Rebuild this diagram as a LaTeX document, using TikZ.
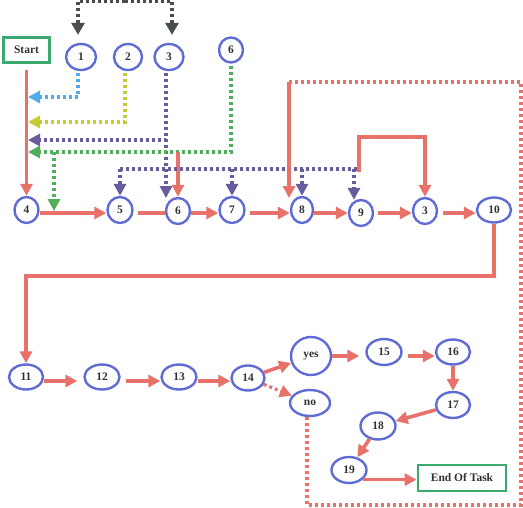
\documentclass[tikz,border=0pt]{standalone}
\usepackage{fontspec}
\setmainfont{Liberation Serif}
\usetikzlibrary{arrows.meta,shapes.geometric,calc}
\definecolor{cred}{RGB}{232,114,106}
\definecolor{cblue}{RGB}{96,108,214}
\definecolor{cgreen}{RGB}{60,170,110}
\definecolor{clb}{RGB}{80,170,235}
\definecolor{cyel}{RGB}{196,206,50}
\definecolor{cpur}{RGB}{104,92,158}
\definecolor{cgd}{RGB}{80,176,90}
\definecolor{cgray}{RGB}{72,78,72}
\definecolor{ctext}{RGB}{50,50,50}
\tikzset{
  ell/.style={ellipse,draw=cblue,line width=2.4pt,inner sep=0pt,text=ctext,font=\fontsize{11.5}{12}\selectfont\bfseries},
  box/.style={rectangle,draw=cgreen,line width=2.8pt,inner sep=0pt,text=ctext,font=\fontsize{11.5}{12}\selectfont\bfseries},
  tip/.style={-{Triangle[length=12pt,width=12pt]}},
  rline/.style={draw=cred,line width=3.6pt},
  dots/.style={line width=3.4pt,dash pattern=on 3pt off 3pt},
  rdot/.style={dots,draw=cred,line width=3.2pt},
}
\begin{document}
\begin{tikzpicture}[x=1pt,y=-1pt]
\useasboundingbox (0,0) rectangle (523,507);
\fill[white] (0,0) rectangle (523,507);
% nodes
\node[box,minimum width=46pt,minimum height=25pt] (start) at (26.5,50) {Start};
\node[ell,minimum width=30pt,minimum height=26pt] (n1) at (81,57) {1};
\node[ell,minimum width=28pt,minimum height=26pt] (n2) at (128,57) {2};
\node[ell,minimum width=29pt,minimum height=26pt] (n3a) at (169,57) {3};
\node[ell,minimum width=24pt,minimum height=25pt] (n6a) at (231,50) {6};
\node[ell,minimum width=24pt,minimum height=26pt] (n4) at (26.5,210) {4};
\node[ell,minimum width=25pt,minimum height=26pt] (n5) at (120,210) {5};
\node[ell,minimum width=24pt,minimum height=26pt] (n6) at (178,211) {6};
\node[ell,minimum width=25pt,minimum height=26pt] (n7) at (232,210) {7};
\node[ell,minimum width=22pt,minimum height=26pt] (n8) at (302,210) {8};
\node[ell,minimum width=24pt,minimum height=26pt] (n9) at (361,213) {9};
\node[ell,minimum width=24pt,minimum height=26pt] (n3b) at (425,211) {3};
\node[ell,minimum width=34pt,minimum height=25pt] (n10) at (494,210) {10};
\node[ell,minimum width=34pt,minimum height=25pt] (n11) at (26,377) {11};
\node[ell,minimum width=35pt,minimum height=25pt] (n12) at (102,377) {12};
\node[ell,minimum width=35pt,minimum height=25pt] (n13) at (179,377) {13};
\node[ell,minimum width=33pt,minimum height=25pt] (n14) at (248,378) {14};
\node[ell,minimum width=40pt,minimum height=38pt] (yes) at (311,356) {yes};
\node[ell,minimum width=35pt,minimum height=26pt] (n15) at (384,352) {15};
\node[ell,minimum width=34pt,minimum height=25pt] (n16) at (453,352) {16};
\node[ell,minimum width=34pt,minimum height=26pt] (n17) at (453,405) {17};
\node[ell,minimum width=40pt,minimum height=26pt] (no) at (310,403) {no};
\node[ell,minimum width=35pt,minimum height=27pt] (n18) at (378,426) {18};
\node[ell,minimum width=35pt,minimum height=26pt] (n19) at (349,470) {19};
\node[box,minimum width=88pt,minimum height=26pt] (end) at (462,478) {End Of Task};
% coordinates
\coordinate (gtop) at (125,1);
\coordinate (b1) at (28,97);
\coordinate (y1) at (28,122);
\coordinate (p1) at (28,140);
\coordinate (g1) at (28,152);
\coordinate (gs) at (54,152);
\coordinate (g45) at (54,211);
\coordinate (r6) at (178,152);
\coordinate (p6) at (166,198);
\coordinate (pL) at (120,169);
\coordinate (pR) at (357,169);
\coordinate (rl) at (359,172);
\coordinate (c8) at (289,82);
\coordinate (e8) at (289,198);
\coordinate (ry) at (0,213);
\coordinate (ry3) at (0,381);
\coordinate (ry4) at (0,356);
% gray dotted top
\draw[dots,draw=cgray,-{Triangle[length=12pt,width=13pt,fill=cgray]}] (gtop) -| ([xshift=-3pt,yshift=8pt]n1.north);
\draw[dots,draw=cgray,-{Triangle[length=12pt,width=13pt,fill=cgray]}] (gtop) -| ([xshift=3pt,yshift=8pt]n3a.north);
% start line
\draw[rline,tip] ([yshift=-6pt]start.south) -- (n4.north);
% dotted feedback from top nodes
\draw[dots,draw=clb,tip] ([xshift=-3pt,yshift=-2pt]n1.south) |- (b1);
\draw[dots,draw=cyel,tip] ([xshift=-3pt,yshift=-2pt]n2.south) |- (y1);
\draw[dots,draw=cpur,tip] ([xshift=-3pt,yshift=-2pt]n3a.south) |- (p1);
\draw[dots,draw=cpur,tip] ([xshift=-3pt,yshift=-2pt]n3a.south) -- (p6);
\draw[dots,draw=cgd,tip] ([yshift=-2pt]n6a.south) |- (g1);
\draw[dots,draw=cgd,tip] (gs) -- (g45);
\draw[rline,tip] (r6) -- (n6.north);
% purple second
\draw[dots,draw=cpur] (pR) -- (pL);
\draw[dots,draw=cpur,tip] (pL) -- (n5.north);
\draw[dots,draw=cpur,tip] (pL -| n7.north) -- (n7.north);
\draw[dots,draw=cpur,tip] (pL -| n8.north) -- (n8.north);
\draw[dots,draw=cpur,tip] ($(pR)+(-3,0)$) -- ([xshift=-7pt,yshift=-1pt]n9.north);
% red loop
\draw[rline,tip] (rl) -- ++(0,-35) -| (n3b.north);
% big red dotted loop
\draw[rdot] ([xshift=-3pt]no.south) |- (521,505) |- (c8);
\draw[rline,tip] (c8) -- (e8);
% row 2
\draw[rline,tip] (n4.east |- ry) -- (n5.west |- ry);
\draw[rline] ([xshift=4pt]n5.east |- ry) -- (n6.west |- ry);
\draw[rline,tip] (n6.east |- ry) -- (n7.west |- ry);
\draw[rline,tip] ([xshift=4pt]n7.east |- ry) -- (n8.west |- ry);
\draw[rline,tip] (n8.east |- ry) -- (n9.west |- ry);
\draw[rline,tip] ([xshift=4pt]n9.east |- ry) -- (n3b.west |- ry);
\draw[rline,tip] ([xshift=5pt]n3b.east |- ry) -- (n10.west |- ry);
\draw[rline,tip] (n10.south) -- ++(0,52) -| (n11.north);
% row 3
\draw[rline,tip] (n11.east |- ry3) -- ([xshift=-6pt]n12.west |- ry3);
\draw[rline,tip] ([xshift=5pt]n12.east |- ry3) -- (n13.west |- ry3);
\draw[rline,tip] (n13.east |- ry3) -- (n14.west |- ry3);
\draw[rline,tip] (n14) -- (yes);
\draw[rdot,tip] (n14) -- (no);
\draw[rline,tip] (yes.east |- ry4) -- ([xshift=-6pt]n15.west |- ry4);
\draw[rline,tip] ([xshift=5pt]n15.east |- ry4) -- (n16.west |- ry4);
\draw[rline,tip] (n16.south) -- (n17.north);
\draw[rline,tip] (n17) -- (n18);
\draw[rline,tip] (n18) -- (n19);
\draw[rline,tip] (n19.-35) -- (n19.-35 -| end.west);
\end{tikzpicture}
\end{document}
